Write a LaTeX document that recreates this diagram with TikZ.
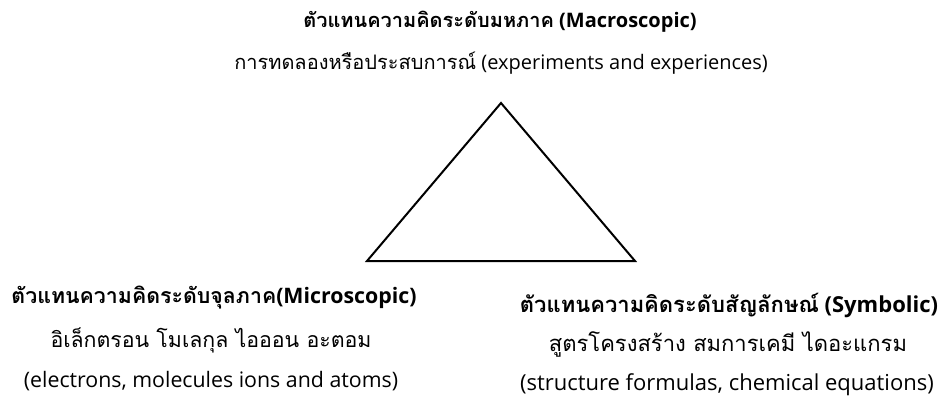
\documentclass[tikz,border=0pt]{standalone}
\usepackage{fontspec}
\setmainfont{Open Sans}
\newfontfamily\thai[Script=Thai]{Loma}
\usetikzlibrary{
  calc % For coordinate calculations
}

\begin{document}
\begin{tikzpicture}[
      x=0.75pt, y=-0.75pt, % pixel grid of the reference
      head/.style={font=\bfseries\fontsize{#1}{#1}\selectfont, inner sep=0pt}, % level titles
      desc/.style={font=\fontsize{#1}{#1}\selectfont, inner sep=0pt}, % descriptions
      edge/.style={draw=black, line width=1.5pt, line join=miter}, % triangle sides
    ]

    % Rahmen
    \useasboundingbox (0,0) rectangle (951,408);

    % Ecken des Dreiecks
    \coordinate (top)   at (501, 103);
    \coordinate (left)  at (367, 261);
    \coordinate (right) at (635, 261);

    % Makro
    \node[head=15]   (macro)    at (500, 22) {{\thai ตัวแทนความคิดระดับมหภาค} (Macroscopic)};
    \node[desc=15]   (macrosub) at (501, 63) {{\thai การทดลองหรือประสบการณ์} (experiments and experiences)};

    % Mikro
    \node[head=16]   (micro)    at (214, 298) {{\thai ตัวแทนความคิดระดับจุลภาค}(Microscopic)};
    \node[desc=16]   (microsub) at (211, 340) {\thai อิเล็กตรอน โมเลกุล ไอออน อะตอม};
    \node[desc=16]   (microeng) at (211, 381) {(electrons, molecules ions and atoms)};

    % Symbol
    \node[head=16.5] (symb)     at (729, 305) {{\thai ตัวแทนความคิดระดับสัญลักษณ์} (Symbolic)};
    \node[desc=16.5] (symbsub)  at (728, 344) {\thai สูตรโครงสร้าง สมการเคมี ไดอะแกรม};
    \node[desc=16.5] (symbeng)  at (727, 385) {(structure formulas, chemical equations)};

    % Dreieck
    \draw[edge] (top) -- (right) -- (left) -- cycle;

  \end{tikzpicture}
\end{document}
